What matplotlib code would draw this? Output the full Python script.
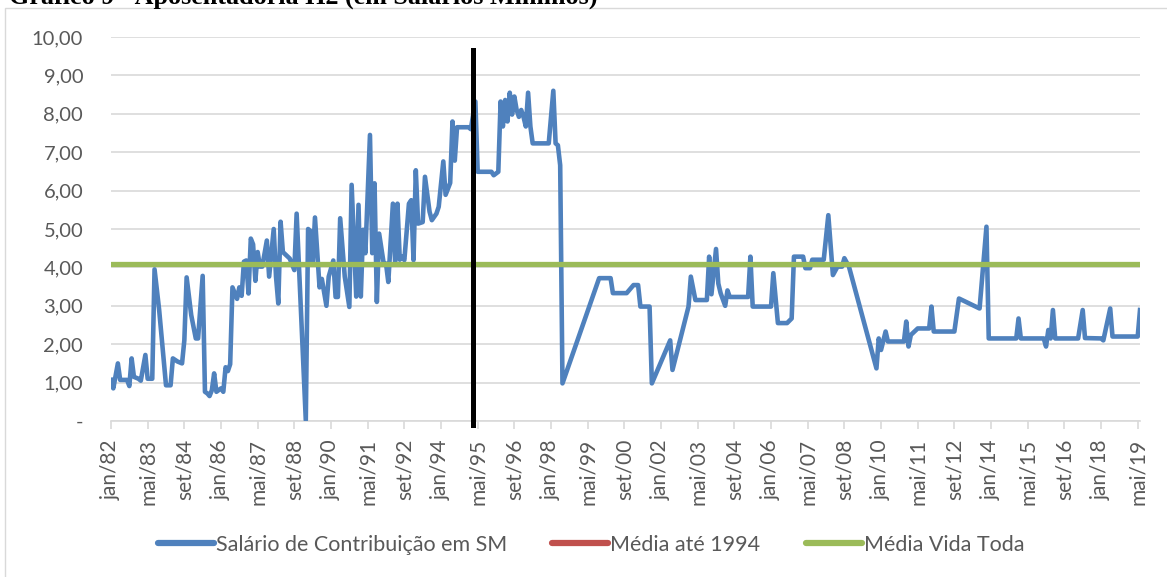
import matplotlib
matplotlib.use("Agg")
import matplotlib.pyplot as plt
from matplotlib.patches import Rectangle
from matplotlib.lines import Line2D

# ---- data ----
titulo = "Gráfico 9 - Aposentadoria H2 (em Salários Mínimos)"
# months since jan/1982
meses = [0, 1, 3, 4, 7, 8, 9, 10, 12, 13, 15, 16, 18, 19, 21, 24, 26, 27, 29, 31,
         32, 33, 35, 37, 38, 40, 41, 42, 43, 44, 45, 46, 48, 49, 50, 51, 52, 53, 55, 56,
         57, 58, 59, 60, 61, 62, 63, 64, 65, 66, 68, 69, 71, 72, 73, 74, 75, 78, 80, 81,
         85, 86, 87, 88, 89, 91, 92, 94, 95, 97, 98, 99, 100, 102, 104, 105, 107, 108, 109, 110,
         111, 113, 114, 115, 116, 117, 119, 120, 121, 123, 124, 125, 126, 127, 128, 130, 131, 132, 133, 134,
         136, 137, 139, 140, 142, 143, 145, 146, 148, 149, 150, 151, 156, 157, 159, 160, 166, 167, 169, 170,
         171, 172, 173, 174, 175, 176, 177, 178, 179, 180, 181, 182, 183, 184, 191, 193, 194, 195, 196, 197,
         213, 218, 219, 225, 228, 230, 231, 235, 236, 244, 245, 252, 253, 255, 260, 261, 262, 264, 265, 266,
         268, 269, 270, 278, 279, 280, 288, 289, 291, 295, 297, 298, 302, 303, 305, 306, 311, 313, 315, 317,
         319, 320, 322, 334, 335, 336, 338, 339, 346, 347, 348, 349, 352, 357, 358, 359, 360, 368, 370, 379,
         382, 383, 395, 396, 397, 407, 408, 409, 410, 411, 412, 422, 424, 425, 432, 433, 436, 437, 448, 449]
salario_sm = [1.07, 0.85, 1.50, 1.07, 1.07, 0.91, 1.63, 1.15, 1.10, 1.05, 1.72, 1.10, 1.10, 3.95, 2.90, 0.93, 0.93, 1.63, 1.55, 1.50,
              2.10, 3.74, 2.76, 2.15, 2.15, 3.78, 0.76, 0.72, 0.65, 0.80, 1.24, 0.76, 0.85, 0.76, 1.40, 1.30, 1.48, 3.48, 3.18, 3.48,
              3.26, 4.15, 4.18, 3.32, 4.75, 4.60, 3.65, 4.40, 4.02, 4.02, 4.70, 3.76, 5.00, 3.76, 3.06, 5.19, 4.40, 4.23, 3.93, 5.40,
              0.02, 5.00, 4.95, 4.10, 5.30, 3.48, 3.70, 3.00, 3.76, 4.18, 3.23, 3.23, 5.28, 3.76, 2.97, 6.15, 3.24, 5.63, 3.24, 4.98,
              4.37, 7.45, 4.37, 6.19, 3.10, 4.88, 4.10, 4.10, 3.62, 5.66, 4.10, 5.66, 4.20, 4.28, 4.19, 5.66, 5.75, 4.19, 6.53, 5.14,
              5.18, 6.36, 5.45, 5.23, 5.40, 5.58, 6.76, 5.89, 6.20, 7.80, 6.78, 7.65, 7.65, 7.60, 8.32, 6.49, 6.49, 6.40, 6.49, 8.32,
              7.67, 8.36, 7.80, 8.55, 7.98, 8.45, 8.10, 7.92, 8.10, 7.92, 7.67, 8.55, 7.67, 7.23, 7.23, 8.60, 7.23, 7.18, 6.66, 0.98,
              3.72, 3.72, 3.33, 3.33, 3.54, 3.54, 2.98, 2.98, 0.98, 2.10, 1.33, 2.98, 3.76, 3.15, 3.15, 4.28, 3.30, 4.48, 3.58, 3.33,
              3.00, 3.40, 3.23, 3.23, 4.28, 2.98, 2.98, 3.85, 2.55, 2.55, 2.67, 4.28, 4.28, 3.98, 3.98, 4.20, 4.20, 5.36, 3.80, 4.02,
              4.02, 4.24, 4.02, 1.37, 2.15, 1.85, 2.33, 2.07, 2.07, 2.59, 1.94, 2.24, 2.41, 2.41, 2.98, 2.33, 2.33, 2.33, 3.19, 2.93,
              5.06, 2.15, 2.15, 2.67, 2.15, 2.15, 1.94, 2.37, 2.15, 2.89, 2.15, 2.15, 2.89, 2.16, 2.15, 2.10, 2.93, 2.20, 2.20, 2.89]
media_vida_toda = 4.08
marco_mes = 158          # vertical marker (early 1995)
marco_topo = 9.65
marco_base = -0.1
rotulos_x = ["jan/82", "mai/83", "set/84", "jan/86", "mai/87", "set/88", "jan/90", "mai/91",
             "set/92", "jan/94", "mai/95", "set/96", "jan/98", "mai/99", "set/00", "jan/02",
             "mai/03", "set/04", "jan/06", "mai/07", "set/08", "jan/10", "mai/11", "set/12",
             "jan/14", "mai/15", "set/16", "jan/18", "mai/19"]
passo_rotulo = 16
ultimo_mes = 449
rotulos_y = ["-", "1,00", "2,00", "3,00", "4,00", "5,00", "6,00", "7,00", "8,00", "9,00", "10,00"]
series_nomes = ["Salário de Contribuição em SM", "Média até 1994", "Média Vida Toda"]

# ---- style ----
AZUL = "#4F81BD"
VERMELHO = "#C0504D"
VERDE = "#9BBB59"
GRADE = "#D9D9D9"
TEXTO = "#595959"
FONTE = ["Lato", "DejaVu Sans"]

W, H = 1167, 577
fig = plt.figure(figsize=(W / 100, H / 100), dpi=100)

# outer frame of chart area
fig.patches.append(Rectangle((5 / W, -0.1), 1.2, 1 - 8 / H + 0.1, transform=fig.transFigure,
                             fill=False, edgecolor=GRADE, linewidth=1.0))
fig.text(9 / W, 1 - 4 / H, titulo, fontfamily="Liberation Serif", fontweight="bold",
         fontsize=18.8, ha="left", va="baseline", color="black")

ax = fig.add_axes([111 / W, 1 - 421 / H, (1140 - 111) / W, (421 - 37) / H])
ax.set_xlim(0, ultimo_mes)
ax.set_ylim(0, 10)

for s in ax.spines.values():
    s.set_visible(False)
ax.spines["bottom"].set_visible(True)
ax.spines["bottom"].set_color(GRADE)
ax.spines["bottom"].set_linewidth(1.2)

ax.set_yticks(range(len(rotulos_y)))
ax.set_yticklabels(rotulos_y)
ax.grid(axis="y", color=GRADE, linewidth=1.2)
ax.set_axisbelow(True)
ax.tick_params(axis="y", length=0, pad=20, labelsize=14.5, labelcolor=TEXTO)
for lab in ax.get_yticklabels():
    lab.set_fontfamily(FONTE)

ax.set_xticks([i * passo_rotulo for i in range(len(rotulos_x))])
ax.set_xticklabels(rotulos_x, rotation=90)
ax.tick_params(axis="x", length=6, width=1.2, color=GRADE, pad=7, labelsize=15, labelcolor=TEXTO)
for lab in ax.get_xticklabels():
    lab.set_fontfamily(FONTE)

ax.plot(meses, salario_sm, color=AZUL, linewidth=3.3, solid_joinstyle="round", zorder=3)
ax.plot([0, ultimo_mes], [media_vida_toda, media_vida_toda], color=VERDE, linewidth=3.8,
        solid_capstyle="round", zorder=4)
ax.plot([marco_mes, marco_mes], [marco_base, marco_topo], color="black", linewidth=3.6,
        clip_on=False, zorder=5)

handles = [Line2D([], [], color=c, linewidth=4.5, solid_capstyle="round") for c in (AZUL, VERMELHO, VERDE)]
leg = fig.legend(handles, series_nomes, loc="center", bbox_to_anchor=(591 / W, 1 - 545 / H), ncol=3,
                 frameon=False, prop={"family": FONTE, "size": 15.5}, handlelength=2.6,
                 handletextpad=0.1, columnspacing=2.1, labelcolor=TEXTO, borderaxespad=0)

fig.savefig("out.png", dpi=100)
